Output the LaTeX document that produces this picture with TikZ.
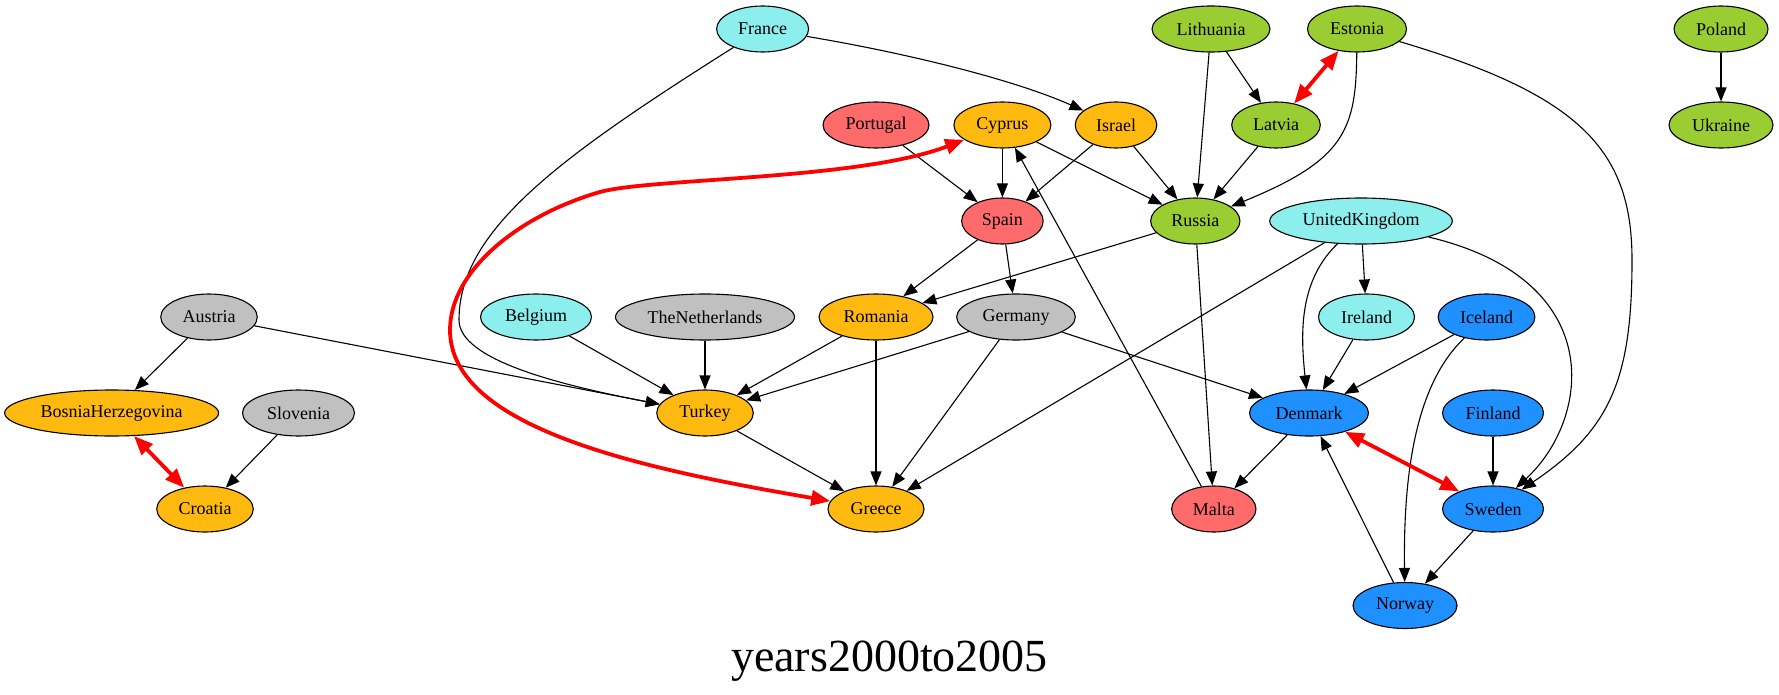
\documentclass[tikz,border=0pt]{standalone}
\usepackage{fontspec}
\setmainfont{Liberation Serif}
\usetikzlibrary{shapes.geometric,arrows.meta}

\definecolor{cyanfill}{RGB}{141,238,238}
\definecolor{orangefill}{RGB}{255,185,15}
\definecolor{redfill}{RGB}{255,106,106}
\definecolor{greenfill}{RGB}{154,205,50}
\definecolor{grayfill}{RGB}{192,192,192}
\definecolor{bluefill}{RGB}{30,144,255}
\definecolor{pairred}{RGB}{255,0,0}

\tikzset{
  country/.style={ellipse, draw=black, line width=1.1pt, minimum height=46pt,
    inner sep=0pt, font=\fontsize{18}{18}\selectfont},
  cy/.style={country, fill=cyanfill},
  og/.style={country, fill=orangefill},
  rd/.style={country, fill=redfill},
  gn/.style={country, fill=greenfill},
  gy/.style={country, fill=grayfill},
  bl/.style={country, fill=bluefill},
  link/.style={draw=black, line width=1.1pt, -{Triangle[length=14pt,width=11pt]}},
  pair/.style={draw=pairred, line width=3.8pt,
    {Triangle[length=19pt,width=15pt]}-{Triangle[length=19pt,width=15pt]}},
  caption/.style={font=\fontsize{46}{46}\selectfont, anchor=base}
}

\begin{document}
\begin{tikzpicture}[x=1pt, y=-1pt]
\useasboundingbox (0,0) rectangle (1779,695);

% rank 1
\node[cy, minimum width=92pt]  (France)    at (762.6,29) {France};
\node[gn, minimum width=118pt] (Lithuania) at (1211,29)  {Lithuania};
\node[gn, minimum width=99pt]  (Estonia)   at (1357,29)  {Estonia};
\node[gn, minimum width=94pt]  (Poland)    at (1721,29)  {Poland};
% rank 2
\node[rd, minimum width=106pt] (Portugal)  at (876,125)    {Portugal};
\node[og, minimum width=97pt]  (Cyprus)    at (1002.4,125) {Cyprus};
\node[og, minimum width=81.5pt](Israel)    at (1116,125)   {Israel};
\node[gn, minimum width=88.6pt](Latvia)    at (1276,125)   {Latvia};
\node[gn, minimum width=104pt] (Ukraine)   at (1721,125)   {Ukraine};
% rank 3
\node[rd, minimum width=81.5pt](Spain)     at (1002.4,221) {Spain};
\node[gn, minimum width=89.3pt](Russia)    at (1195.3,221) {Russia};
\node[cy, minimum width=182.6pt](UK)       at (1361,221)   {UnitedKingdom};
% rank 4
\node[gy, minimum width=96.5pt](Austria)   at (209,317)    {Austria};
\node[cy, minimum width=111pt] (Belgium)   at (536,317)    {Belgium};
\node[gy, minimum width=179pt] (Netherlands) at (705,317)  {TheNetherlands};
\node[og, minimum width=114pt] (Romania)   at (876,317)    {Romania};
\node[gy, minimum width=118.7pt](Germany)  at (1016,317)   {Germany};
\node[cy, minimum width=96pt]  (Ireland)   at (1366.5,317) {Ireland};
\node[bl, minimum width=96.7pt](Iceland)   at (1486.5,317) {Iceland};
% rank 5
\node[og, minimum width=214pt] (Bosnia)    at (111.6,413)  {BosniaHerzegovina};
\node[gy, minimum width=112pt] (Slovenia)  at (298.5,413)  {Slovenia};
\node[og, minimum width=96.5pt](Turkey)    at (705,413)    {Turkey};
\node[bl, minimum width=119pt] (Denmark)   at (1309,413)   {Denmark};
\node[bl, minimum width=101pt] (Finland)   at (1493,413)   {Finland};
% rank 6
\node[og, minimum width=96.5pt](Croatia)   at (205,509)    {Croatia};
\node[og, minimum width=96pt]  (Greece)    at (876,509)    {Greece};
\node[rd, minimum width=84.3pt](Malta)     at (1213.8,509) {Malta};
\node[bl, minimum width=101pt] (Sweden)    at (1493,509)   {Sweden};
% rank 7
\node[bl, minimum width=104pt] (Norway)    at (1405,605.5) {Norway};

% graph label
\node[caption] (title) at (889.5,671.5) {years2000to2005};

% directed links
\draw[link] (France) .. controls (900,52) and (1010,78) .. (Israel);
\draw[link] (France) .. controls (560,157) and (459,230) .. (459,320)
                     .. controls (459,360) and (560,385) .. (Turkey);
\draw[link] (Portugal) -- (Spain);
\draw[link] (Cyprus) -- (Spain);
\draw[link] (Israel) -- (Spain);
\draw[link] (Cyprus) -- (Russia);
\draw[link] (Israel) -- (Russia);
\draw[link] (Lithuania) -- (Latvia);
\draw[link] (Lithuania) -- (Russia);
\draw[link] (Latvia) -- (Russia);
\draw[link] (Estonia) .. controls (1356,130) and (1345,160) .. (Russia);
\draw[link] (Estonia) .. controls (1580,95) and (1632,150) .. (1632,260)
                      .. controls (1632,380) and (1610,430) .. (Sweden);
\draw[link] (Poland) -- (Ukraine);
\draw[link] (Spain) -- (Romania);
\draw[link] (Spain) -- (Germany);
\draw[link] (Russia) -- (Romania);
\draw[link] (Russia) -- (Malta);
\draw[link] (UK) -- (Greece);
\draw[link] (UK) .. controls (1300,280) and (1300,330) .. (Denmark);
\draw[link] (UK) -- (Ireland);
\draw[link] (UK) .. controls (1610,280) and (1590,420) .. (Sweden);
\draw[link] (Malta) -- (Cyprus);
\draw[link] (Austria) -- (Bosnia);
\draw[link] (Austria) -- (Turkey);
\draw[link] (Belgium) -- (Turkey);
\draw[link] (Netherlands) -- (Turkey);
\draw[link] (Romania) -- (Turkey);
\draw[link] (Germany) -- (Turkey);
\draw[link] (Romania) -- (Greece);
\draw[link] (Germany) -- (Greece);
\draw[link] (Germany) -- (Denmark);
\draw[link] (Turkey) -- (Greece);
\draw[link] (Ireland) -- (Denmark);
\draw[link] (Iceland) -- (Denmark);
\draw[link] (Iceland) .. controls (1420,380) and (1403,460) .. (Norway);
\draw[link] (Slovenia) -- (Croatia);
\draw[link] (Denmark) -- (Malta);
\draw[link] (Finland) -- (Sweden);
\draw[link] (Sweden) -- (Norway);
\draw[link] (Norway) -- (Denmark);

% mutual links
\draw[pair] (Estonia) -- (Latvia);
\draw[pair] (Bosnia) -- (Croatia);
\draw[pair] (Denmark) -- (Sweden);
\draw[pair] (Greece) .. controls (650,470) and (450,430) .. (450,330)
                     .. controls (450,270) and (520,215) .. (600,192)
                     .. controls (650,178) and (860,180) .. (Cyprus);
\end{tikzpicture}
\end{document}
